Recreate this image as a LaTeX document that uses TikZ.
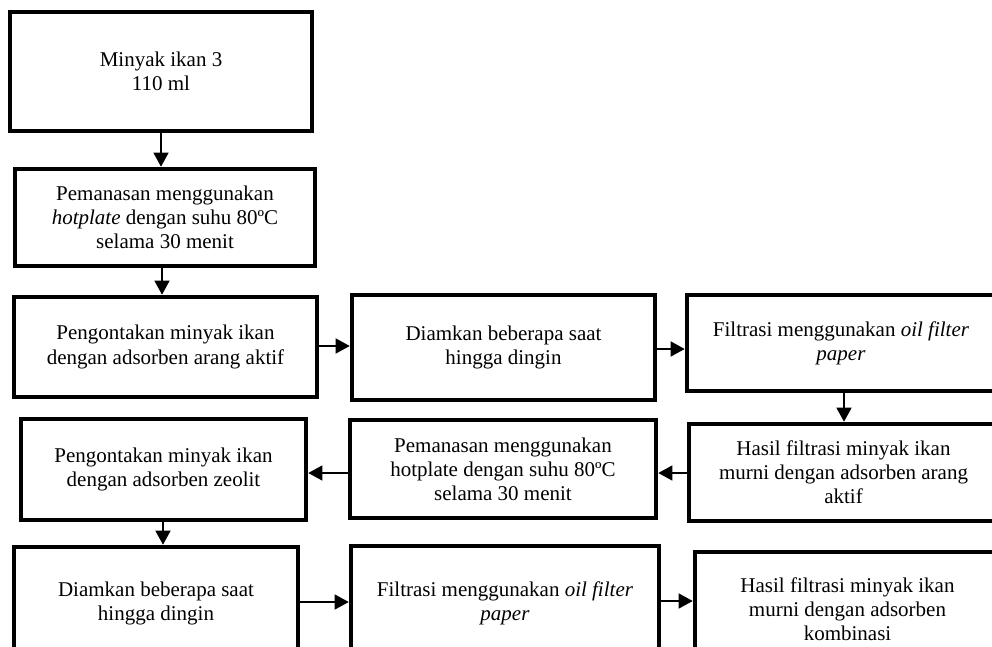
\documentclass[tikz,border=0pt]{standalone}
\usepackage{fontspec}
\setmainfont{Liberation Serif}
\usetikzlibrary{arrows.meta}
\tikzset{
  box/.style={draw=black, line width=4.6pt, rectangle, fill=white, align=center,
    inner sep=0pt, outer sep=auto,
    font=\fontsize{21}{24.15}\selectfont},
  arr/.style={draw=black, line width=1.3pt, -{Triangle[length=14pt,width=15pt]}}
}
\newcommand{\boxat}[6]{% name, left, top, right, bottom, text
  \node[box, minimum width={(#4)-(#2)}, minimum height={(#5)-(#3)}]
    (#1) at ({((#2)+(#4))/2},{((#3)+(#5))/2}) {#6};}
\begin{document}
\begin{tikzpicture}[x=1pt,y=-1pt]
\useasboundingbox (0,0) rectangle (992,647);
\clip (0,0) rectangle (992,647);
\boxat{b1}{10}{12}{312}{131}{Minyak ikan 3\\110 ml}
\boxat{b2}{15}{169}{315}{266}{Pemanasan menggunakan\\\textit{hotplate} dengan suhu 80ºC\\selama 30 menit}
\boxat{b3}{14}{297}{317}{397}{Pengontakan minyak ikan\\dengan adsorben arang aktif}
\boxat{b4}{352}{295}{655}{400}{Diamkan beberapa saat\\hingga dingin}
\boxat{b5}{687}{295}{995}{391}{Filtrasi menggunakan \textit{oil filter}\\\textit{paper}}
\boxat{b6}{689}{424}{998}{521}{Hasil filtrasi minyak ikan\\murni dengan adsorben arang\\aktif}
\boxat{b7}{350}{420}{656}{518}{Pemanasan menggunakan\\hotplate dengan suhu 80ºC\\selama 30 menit}
\boxat{b8}{21}{419}{306}{520}{Pengontakan minyak ikan\\dengan adsorben zeolit}
\boxat{b9}{14}{547}{298}{660}{Diamkan beberapa saat\\hingga dingin}
\boxat{b10}{351}{546}{659}{660}{Filtrasi menggunakan \textit{oil filter}\\\textit{paper}}
\boxat{b11}{695}{552}{1000}{666}{Hasil filtrasi minyak ikan\\murni dengan adsorben\\kombinasi}
% guide coordinates for connector positions
\coordinate (xa) at (161,0);
\coordinate (xb) at (162,0);
\coordinate (xc) at (844,0);
\coordinate (xd) at (163,0);
\coordinate (ya) at (0,346);
\coordinate (yb) at (0,349);
\coordinate (yc) at (0,473);
\coordinate (yd) at (0,602);
\coordinate (ye) at (0,601);
\draw[arr] (b1.south -| xa) -- (b2.north -| xa);
\draw[arr] (b2.south -| xb) -- (b3.north -| xb);
\draw[arr] (b3.east |- ya) -- (b4.west |- ya);
\draw[arr] (b4.east |- yb) -- (b5.west |- yb);
\draw[arr] (b5.south -| xc) -- (b6.north -| xc);
\draw[arr] (b6.west |- yc) -- (b7.east |- yc);
\draw[arr] (b7.west |- yc) -- (b8.east |- yc);
\draw[arr] (b8.south -| xd) -- (b9.north -| xd);
\draw[arr] (b9.east |- yd) -- (b10.west |- yd);
\draw[arr] (b10.east |- ye) -- (b11.west |- ye);
\end{tikzpicture}
\end{document}
